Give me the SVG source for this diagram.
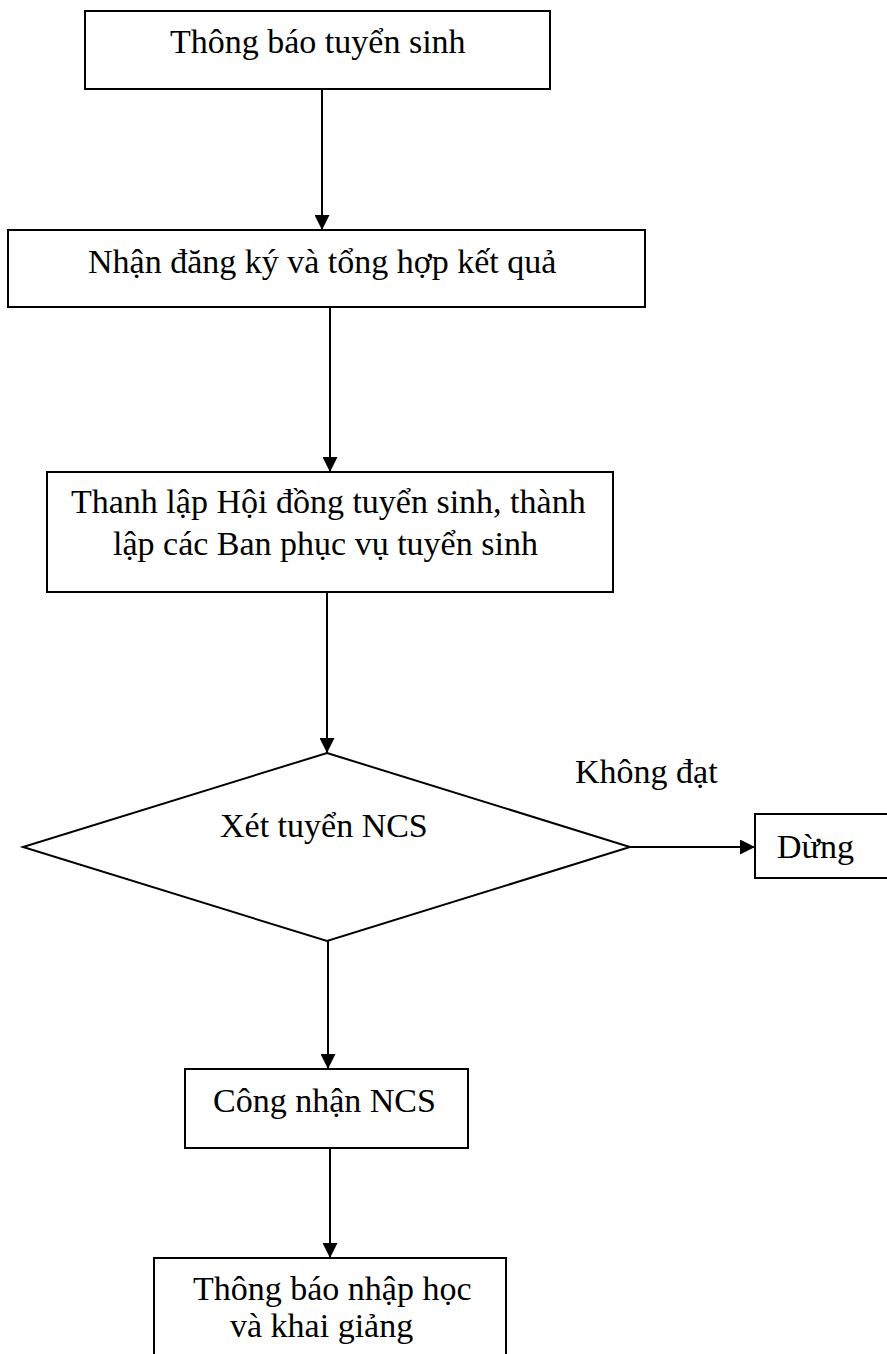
<svg xmlns="http://www.w3.org/2000/svg" width="887" height="1354" viewBox="0 0 887 1354">
  <style>
    .box { fill: #ffffff; stroke: #000000; stroke-width: 2; }
    .conn { fill: none; stroke: #000000; stroke-width: 2; }
    .t { font-family: "Liberation Serif", "Times New Roman", serif; font-size: 34px; fill: #000000; }
  </style>
  <defs>
    <marker id="arrow" markerUnits="userSpaceOnUse" markerWidth="15" markerHeight="15" refX="15" refY="7.5" orient="auto">
      <path d="M0,0 L15,7.5 L0,15 z" fill="#000000"/>
    </marker>
  </defs>
  <rect x="0" y="0" width="887" height="1354" fill="#ffffff"/>

  <g id="connectors">
    <line class="conn" x1="322" y1="89" x2="322" y2="230" marker-end="url(#arrow)"/>
    <line class="conn" x1="330" y1="307" x2="330" y2="472" marker-end="url(#arrow)"/>
    <line class="conn" x1="327" y1="592" x2="327" y2="753" marker-end="url(#arrow)"/>
    <line class="conn" x1="328" y1="941" x2="328" y2="1069" marker-end="url(#arrow)"/>
    <line class="conn" x1="330" y1="1148" x2="330" y2="1258" marker-end="url(#arrow)"/>
    <line class="conn" x1="630" y1="847" x2="755" y2="847" marker-end="url(#arrow)"/>
    <text class="t" x="575" y="783">Không đạt</text>
  </g>

  <g id="node-thong-bao">
    <rect class="box" x="85" y="11" width="465" height="78"/>
    <text class="t" x="170" y="53">Thông báo tuyển sinh</text>
  </g>

  <g id="node-nhan-dang-ky">
    <rect class="box" x="8" y="230" width="637" height="77"/>
    <text class="t" x="88" y="273">Nhận đăng ký và tổng hợp kết quả</text>
  </g>

  <g id="node-thanh-lap">
    <rect class="box" x="47" y="472" width="566" height="120"/>
    <text class="t" x="71" y="513">Thanh lập Hội đồng tuyển sinh, thành</text>
    <text class="t" x="113" y="555">lập các Ban phục vụ tuyển sinh</text>
  </g>

  <g id="node-xet-tuyen">
    <polygon class="box" points="327,753 630,847 327,941 23,847"/>
    <text class="t" x="220" y="837">Xét tuyển NCS</text>
  </g>

  <g id="node-dung">
    <rect class="box" x="755" y="814" width="145" height="64"/>
    <text class="t" x="777" y="858">Dừng</text>
  </g>

  <g id="node-cong-nhan">
    <rect class="box" x="185" y="1069" width="283" height="79"/>
    <text class="t" x="213" y="1112">Công nhận NCS</text>
  </g>

  <g id="node-thong-bao-nhap-hoc">
    <rect class="box" x="154" y="1258" width="352" height="110"/>
    <text class="t" x="193" y="1300">Thông báo nhập học</text>
    <text class="t" x="230" y="1337">và khai giảng</text>
  </g>
</svg>
